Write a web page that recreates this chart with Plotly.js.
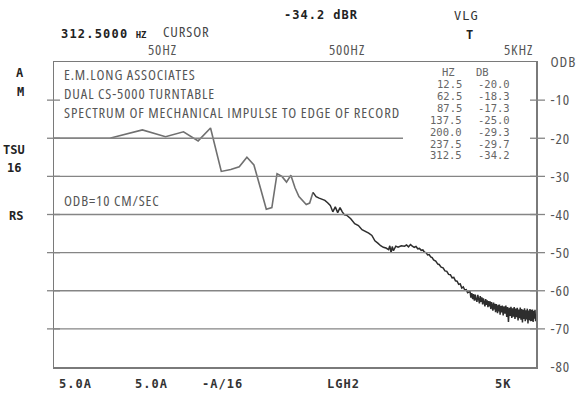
<!DOCTYPE html>
<html><head><meta charset="utf-8">
<script src="https://cdn.plot.ly/plotly-3.0.1.min.js"></script>
<style>html,body{margin:0;padding:0;background:#fff}#chart{width:579px;height:397px}</style>
</head><body><div id="chart"></div>
<script>
// ---- data ----
const lowHz = [12.5,25,37.5,50,62.5,75,87.5,100,112.5,125,137.5,150,162.5,175,187.5,200,212.5,225,237.5,250,262.5,275,287.5,300,312.5];
const lowDb = [-20.0,-20.0,-17.8,-19.6,-18.3,-20.7,-17.3,-28.7,-28.2,-27.5,-25.0,-27.0,-33.0,-38.6,-38.2,-29.3,-30.0,-31.5,-29.7,-33.0,-35.3,-36.4,-37.4,-37.0,-34.2];
const midHz = [312.5,325,337.5,350,362.5,375,387.5,400,412.5,425,437.5,450,462.5,475,500,525,550,575,600,625,650,675,700,725,750,775,800,812.5,825,837.5,850,875,900,937.5,975,
  1000,1025,1050,1075,1100,1125,1150,1175,1200,1225,1250,1275,1300,1325,1350,1375,1400,1437.5,1475,1500,1537.5,1575,1612.5,1650,1687.5,1725,1762.5,1800,1837.5,1875,1912.5,1950,1987.5,2025,2062.5,2100,2137.5,2175];
const midDb = [-34.2,-35.3,-35.7,-36.0,-36.3,-36.9,-37.6,-39.3,-38.0,-39.5,-38.2,-39.3,-40.1,-40.2,-41.1,-42.4,-42.9,-44.0,-44.4,-44.9,-45.5,-46.9,-47.5,-48.2,-48.6,-48.8,-49.2,-48.2,-50.0,-48.4,-49.5,-48.3,-48.6,-48.2,-48.3,
  -48.0,-48.5,-47.9,-48.3,-48.6,-48.4,-49.0,-48.9,-49.4,-49.3,-49.9,-50.0,-50.6,-50.5,-51.1,-51.3,-51.9,-52.2,-53.0,-53.1,-53.8,-54.0,-54.8,-54.9,-55.7,-55.8,-56.6,-56.5,-57.4,-57.5,-58.3,-58.2,-59.3,-59.0,-59.8,-59.7,-60.5,-60.3];
const highHz = [2200,2225,2250,2275,2300,2325,2350,2375,2400,2425,2450,2475,2500,2525,2550,2575,2600,2625,2650,2675,2700,2725,2750,2775,2800,2825,2850,2875,2900,2925,2950,2975,3000,3025,3050,3075,3100,3125,3150,3175,3200,3225,3250,
  3287.5,3325,3362.5,3400,3437.5,3475,3512.5,3550,3587.5,3625,3662.5,3700,3737.5,3775,3812.5,3850,3887.5,3925,3962.5,4000,4037.5,4075,4112.5,4150,4187.5,4225,4262.5,4300,4337.5,4375,4412.5,4450,4487.5,4525,4562.5,4600,4637.5,4675,4712.5,4750,4787.5,4825,4862.5,4900,4937.5,4975,5000];
const highDb = [-60.0,-61.8,-60.6,-62.2,-60.9,-62.6,-61.0,-62.3,-62.9,-61.1,-62.4,-63.3,-61.4,-62.9,-61.7,-63.6,-62.0,-63.2,-64.1,-62.2,-63.7,-62.5,-64.3,-62.7,-64.1,-62.8,-64.8,-63.0,-64.4,-65.2,-63.1,-64.9,-63.4,-65.6,-63.5,-65.1,-65.9,-63.7,-65.4,-63.6,-66.3,-64.0,-65.7,
  -63.9,-66.5,-64.1,-66.0,-63.9,-66.9,-64.3,-68.2,-64.5,-66.6,-64.2,-67.1,-64.6,-66.8,-64.3,-67.4,-64.7,-66.9,-64.5,-67.8,-64.9,-67.2,-64.4,-67.6,-64.8,-68.3,-65.0,-67.4,-64.6,-68.0,-65.1,-67.5,-64.7,-68.6,-65.2,-67.7,-64.8,-68.0,-65.0,-67.9,-64.9,-68.2,-65.3,-67.3,-65.0,-68.0,-66.2];

const cursorHz = 312.5;
const tableHz = ['12.5','62.5','87.5','137.5','200.0','237.5','312.5'];
const tableDb = ['-20.0','-18.3','-17.3','-25.0','-29.3','-29.7','-34.2'];
const yTickVals = [0,-10,-20,-30,-40,-50,-60,-70,-80];
const yTickText = ['ODB','-10','-20','-30','-40','-50','-60','-70','-80'];
const gridDb = [-30,-40,-50,-60,-70];
const shortGridDb = [-20];
const sideTickDb = [-10,-20,-30,-40,-50,-60,-70];
const markHz = [50,500];
const topLabels = ['50HZ','500HZ','5KHZ'];
const bottomLabels = ['5.0A','5.0A','-A/16','LGH2','5K'];
const leftLabels = ['A','M','TSU','16','RS'];
const boxLines = ['E.M.LONG ASSOCIATES','DUAL CS-5000 TURNTABLE','SPECTRUM OF MECHANICAL IMPULSE TO EDGE OF RECORD'];

// ---- pick a narrow plotter-like font: fixed size, width via font-stretch + letter-spacing ----
const FS = 14.6, TARGET_W = 336;
const probe = document.createElement('span');
probe.style.cssText = 'position:absolute;visibility:hidden;white-space:nowrap;left:-9999px;top:0';
document.body.appendChild(probe);
function domW(fam, size, st, txt){
  probe.style.fontFamily = fam; probe.style.fontSize = size+'px'; probe.style.fontStretch = st;
  probe.textContent = txt; return probe.getBoundingClientRect().width;
}
const cands = ['Noto Sans','Open Sans','Roboto','Inter','Lato','DejaVu Sans','Liberation Sans'];
let famName = 'Liberation Sans', stretch = '100%', bestErr = 1e9;
for (const f of cands){
  const q = '"'+f+'", monospace';
  if (Math.abs(domW(q,20,'100%','ABCxyz MW') - domW('monospace',20,'100%','ABCxyz MW')) < 0.5) continue;
  for (let p = 62.5; p <= 100.01; p += 2.5){
    const w = domW(q, FS, p+'%', boxLines[2]);
    const err = w <= TARGET_W ? TARGET_W - w : 3*(w - TARGET_W);
    if (err < bestErr){ bestErr = err; famName = f; stretch = p+'%'; }
  }
  if (bestErr < 40) break;
}
const NARROW = '"'+famName+'", sans-serif';
let nSize = FS;
let ls = (TARGET_W - domW(NARROW, nSize, stretch, boxLines[2])) / boxLines[2].length;
if (ls < -0.3 || ls > 1.2){
  const clampLs = Math.max(-0.3, Math.min(1.2, ls));
  nSize = FS * (TARGET_W - clampLs*boxLines[2].length) / domW(NARROW, FS, stretch, boxLines[2]);
  ls = clampLs;
}
document.body.removeChild(probe);
const wrap = t => '<span style="font-stretch:'+stretch+';letter-spacing:'+ls.toFixed(2)+'px">'+t+'</span>';
const spaced = (t,l) => '<span style="letter-spacing:'+l+'px">'+t+'</span>';

// ---- layout helpers ----
const L=54,R=536,T=62,B=367;
const px = x => (x-L)/(R-L);
const py = y => (B-y)/(B-T);
const MONO = '"DejaVu Sans Mono","Liberation Mono",monospace';
const GRID = '#858585';
function ann(x,y,text,font,xa,align){return {xref:'paper',yref:'paper',x:px(x),y:py(y),text:text,showarrow:false,xanchor:xa||'left',yanchor:'middle',align:align||'left',borderpad:0,font:font};}

const fPlot = {family:NARROW,size:nSize,color:'#555'};
const fInst = {family:MONO,size:12,color:'#222',weight:'bold'};
const fTab = {family:MONO,size:10.5,color:'#666'};

const annotations = [];
annotations.push(ann(60,34,spaced('312.5000',1.2)+' <span style="font-size:9px">HZ</span>',fInst));
annotations.push(ann(162,31,wrap('CURSOR'),Object.assign({},fPlot,{color:'#444'})));
annotations.push(ann(283,15,spaced('-34.2 dBR',1),fInst));
annotations.push(ann(453,16,spaced('VLG',1),{family:MONO,size:12,color:'#333'}));
annotations.push(ann(469,35,'T',fInst,'center'));
[162,347,518].forEach((x,i)=>annotations.push(ann(x,49,wrap(topLabels[i]),fPlot,'center')));
[75,151,222,343,503].forEach((x,i)=>annotations.push(ann(x,384,spaced(bottomLabels[i],1),{family:MONO,size:12,color:'#333',weight:'bold'},'center')));
[[20,73],[20,92],[14,150],[14,168],[16,216]].forEach((p,i)=>annotations.push(ann(p[0],p[1],leftLabels[i],fInst,'center')));
annotations.push(ann(63,92.5,boxLines.map(wrap).join('<br>'),fPlot,'left','left'));
annotations.push(ann(63,200,wrap('ODB=10 CM/SEC'),fPlot));
annotations.push(ann(448,72,'HZ',fTab,'center'));
annotations.push(ann(482,72,'DB',fTab,'center'));
tableHz.forEach((t,i)=>{
  const y = 84 + i*11.9;
  annotations.push(ann(463,y,t,fTab,'right'));
  annotations.push(ann(511,y,tableDb[i],fTab,'right'));
});

const shapes = [];
gridDb.forEach(v=>shapes.push({type:'line',xref:'paper',yref:'y',x0:0,x1:1,y0:v,y1:v,line:{color:GRID,width:1.3}}));
shortGridDb.forEach(v=>shapes.push({type:'line',xref:'paper',yref:'y',x0:0,x1:px(403),y0:v,y1:v,line:{color:GRID,width:1.3}}));
sideTickDb.forEach(v=>{
  shapes.push({type:'line',xref:'paper',yref:'y',x0:px(47),x1:px(60),y0:v,y1:v,line:{color:GRID,width:1.3}});
  shapes.push({type:'line',xref:'paper',yref:'y',x0:px(530),x1:px(545),y0:v,y1:v,line:{color:GRID,width:1.3}});
});
shapes.push({type:'line',xref:'x',yref:'paper',x0:Math.log10(cursorHz),x1:Math.log10(cursorHz),y0:0,y1:1,line:{color:'#777',width:1.4}});
markHz.forEach(f=>{
  shapes.push({type:'line',xref:'x',yref:'paper',x0:Math.log10(f),x1:Math.log10(f),y0:py(56),y1:py(68),line:{color:GRID,width:1.3}});
  shapes.push({type:'line',xref:'x',yref:'paper',x0:Math.log10(f),x1:Math.log10(f),y0:py(361),y1:py(373),line:{color:GRID,width:1.3}});
});

const traces = [
  {x:lowHz, y:lowDb, type:'scatter', mode:'lines', line:{color:'#707070', width:1.6}, hoverinfo:'skip'},
  {x:midHz.concat(highHz), y:midDb.concat(highDb), type:'scatter', mode:'lines', line:{color:'#2e2e2e', width:1.5}, hoverinfo:'skip'}
];

const layout = {
  width:579, height:397,
  margin:{l:L, r:579-R, t:T, b:397-B},
  paper_bgcolor:'#fff', plot_bgcolor:'#fff',
  showlegend:false,
  xaxis:{type:'log', range:[Math.log10(12.5), Math.log10(5000)], showticklabels:false, ticks:'', showgrid:false, zeroline:false,
         showline:true, mirror:true, linecolor:'#7a7a7a', linewidth:1.5},
  yaxis:{range:[-80,0], side:'right', tickvals:yTickVals, ticktext:yTickText.map(wrap), ticks:'', ticklabelstandoff:10,
         showgrid:false, zeroline:false, showline:true, mirror:true, linecolor:'#7a7a7a', linewidth:1.5,
         tickfont:{family:NARROW, size:Math.max(nSize,15), color:'#555'}},
  annotations: annotations,
  shapes: shapes
};
Plotly.newPlot('chart',traces,layout,{displayModeBar:false, staticPlot:true});
</script></body></html>
